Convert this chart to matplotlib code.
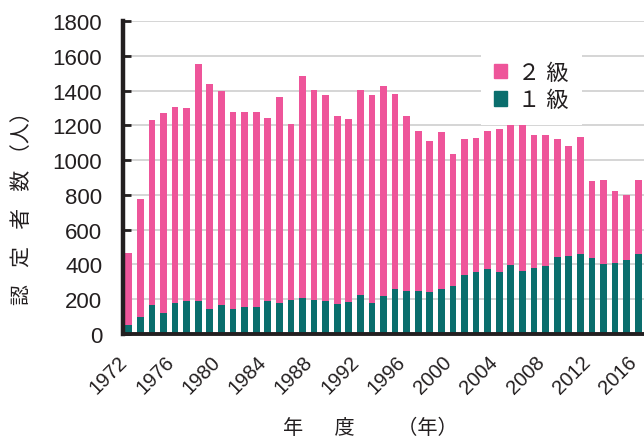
import numpy as np
import matplotlib
matplotlib.use("Agg")
import matplotlib.pyplot as plt
from matplotlib.patches import Patch
from matplotlib.transforms import ScaledTranslation

plt.rcParams['font.family'] = ['Liberation Sans', 'Noto Sans CJK JP']

# 年度ごとの認定者数（読み取り値）
years = np.arange(1972, 2017)
total = [466, 778, 1231, 1270, 1308, 1299, 1551, 1439, 1399, 1276,
         1274, 1279, 1243, 1362, 1206, 1482, 1403, 1374, 1256, 1239,
         1405, 1374, 1426, 1381, 1256, 1168, 1108, 1164, 1035, 1123,
         1127, 1166, 1177, 1200, 1210, 1146, 1146, 1121, 1083, 1131,
         877, 884, 825, 802, 888]
kyu1 = [54, 98, 168, 119, 181, 187, 187, 143, 168, 145,
        154, 156, 189, 179, 198, 209, 193, 191, 171, 183,
        227, 179, 220, 256, 247, 245, 243, 260, 277, 341,
        358, 372, 355, 395, 364, 377, 391, 441, 451, 458,
        435, 405, 410, 426, 461]
kyu2 = [t - k for t, k in zip(total, kyu1)]

pink = '#ee559a'
teal = '#0a6e6d'
dark = '#231f20'

fig = plt.figure(figsize=(6.44, 4.39), dpi=100)
ax = fig.add_axes([123 / 644, 1 - 335 / 439, 1 - 123 / 644, 313 / 439])

ax.bar(years, kyu1, width=0.58, color=teal, zorder=2)
ax.bar(years, kyu2, width=0.58, bottom=kyu1, color=pink, zorder=2)

ax.set_xlim(1971.5, 2016.5)
ax.set_ylim(0, 1800)
ax.set_yticks(np.arange(0, 1801, 200))
ax.yaxis.grid(True, color='#d2d2d2', linewidth=1.3, zorder=0)
ax.set_axisbelow(True)

for s in ['top', 'right']:
    ax.spines[s].set_visible(False)
ax.spines['left'].set_linewidth(3.2)
ax.spines['bottom'].set_linewidth(2.8)
for s in ['left', 'bottom']:
    ax.spines[s].set_color(dark)

ax.tick_params(axis='y', direction='in', length=6, width=2, color=dark,
               labelsize=16, pad=15, labelcolor=dark)
ax.tick_params(axis='x', length=0, labelsize=14.5, pad=13, labelcolor=dark)

xt = np.arange(1972, 2017, 4)
ax.set_xticks(xt)
ax.set_xticklabels([str(y) for y in xt], rotation=45, ha='right',
                   rotation_mode='anchor')
shift = ScaledTranslation(-0.11, 0, fig.dpi_scale_trans)
for lab in ax.get_xticklabels():
    lab.set_transform(lab.get_transform() + shift)

fig.text(22 / 644, 1 - 203 / 439, '認   定   者   数 （人）', rotation=90,
         ha='center', va='center', fontsize=15, color=dark)
fig.text(283 / 644, 1 - 428 / 439, '年　  度　    （年）', ha='left',
         va='center', fontsize=14.5, color=dark)

handles = [Patch(color=pink), Patch(color=teal)]
leg = ax.legend(handles, ['２ 級', '１ 級'], loc='upper left',
                bbox_to_anchor=(0.665, 0.945), fontsize=16, frameon=True,
                fancybox=False, edgecolor='none', facecolor='white',
                framealpha=1, handlelength=0.6, handleheight=0.6,
                handletextpad=0.5, labelspacing=0.3, borderpad=0.6)
for t in leg.get_texts():
    t.set_color(dark)

fig.savefig('out.png', dpi=100)
